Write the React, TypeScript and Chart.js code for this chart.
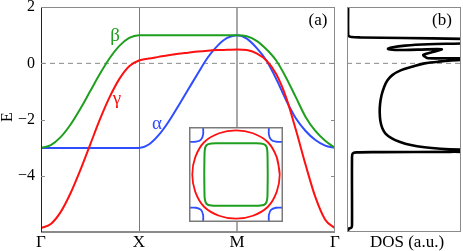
import React, { useEffect, useRef } from 'react';
import { Chart, registerables } from 'chart.js';

Chart.register(...registerables);

// ---------- data ----------
const kPath = [0, 0.1, 0.2, 0.3, 0.4, 0.5, 0.6, 0.7, 0.8, 0.9, 1.0, 1.1, 1.2, 1.3, 1.4, 1.5, 1.6, 1.7, 1.8, 1.9, 2.0, 2.1, 2.2, 2.3, 2.4, 2.5, 2.6, 2.7, 2.8, 2.9, 3.0];
const kTickValues = [0, 1, 2, 3];
const kTickLabels = ['Γ', 'X', 'M', 'Γ'];
const eTicks = [-4, -2, 0, 2];

const alphaBand = [-3, -3, -3, -3, -3, -3, -3, -3, -3, -3, -3, -2.88, -2.55, -2.08, -1.52, -0.94, -0.36, 0.2, 0.62, 0.9, 1.0, 0.88, 0.55, 0.1, -0.55, -1.3, -1.95, -2.4, -2.72, -2.92, -3.0];
const betaBand = [-3, -2.9, -2.62, -2.18, -1.62, -1.0, -0.38, 0.18, 0.62, 0.9, 1.0, 1.0, 1.0, 1.0, 1.0, 1.0, 1.0, 1.0, 1.0, 1.0, 1.0, 0.96, 0.8, 0.5, 0.1, -0.5, -1.2, -1.9, -2.4, -2.75, -3.0];
const gammaBand = [-5.85, -5.7, -5.28, -4.62, -3.8, -2.9, -2.0, -1.2, -0.55, -0.1, 0.1, 0.17, 0.23, 0.29, 0.34, 0.38, 0.42, 0.45, 0.47, 0.48, 0.49, 0.47, 0.35, 0.1, -0.38, -1.2, -2.35, -3.6, -4.75, -5.55, -5.85];

const dosEnergy = [2.0, 1.05, 0.97, 0.935, 0.92, 0.9, 0.87, 0.85,
  0.8, 0.75, 0.71, 0.68, 0.63, 0.56, 0.51,
  0.475, 0.486, 0.5,
  0.4, 0.3, 0.22, 0.18, 0.18, 0.18, 0.16,
  0.12, 0.12, 0.06, 0.0, -0.12, -0.25, -0.41,
  -0.6, -0.85, -1.15, -1.45, -1.75, -2.05, -2.3, -2.5, -2.65, -2.78, -2.9, -2.98, -3.03, -3.06, -3.08,
  -3.13, -3.14, -3.15, -3.16, -3.2, -3.35, -5.75, -5.82, -5.86, -5.87, -5.95];
const dosValue = [0.01, 0.01, 0.015, 0.04, 0.12, 0.5, 1.0, 1.3,
  1.3, 1.15, 1.02, 0.714, 0.51, 0.39, 0.36,
  0.42, 0.62, 0.83,
  0.75, 0.67, 0.69, 0.71, 0.86, 1.02, 1.3,
  1.3, 1.02, 0.8, 0.68, 0.57, 0.47, 0.4,
  0.355, 0.325, 0.302, 0.29, 0.287, 0.293, 0.31, 0.34, 0.39, 0.46, 0.56, 0.68, 0.82, 0.99, 1.3,
  1.3, 0.9, 0.3, 0.08, 0.05, 0.044, 0.044, 0.04, 0.02, 0.01, 0.01];

// Fermi surface inset (kx/π, ky/π)
const fsGammaX = [0.93, 0.868, 0.679, 0.36, 0, -0.36, -0.679, -0.868, -0.93, -0.868, -0.679, -0.36, 0, 0.36, 0.679, 0.868, 0.93, 0.868];
const fsGammaY = [0, 0.36, 0.679, 0.868, 0.93, 0.868, 0.679, 0.36, 0, -0.36, -0.679, -0.868, -0.93, -0.868, -0.679, -0.36, 0, 0.36];
const fsBetaX = [0.675, 0.672, 0.665, 0.63, 0.525, 0.3, 0, -0.3, -0.525, -0.63, -0.665, -0.672, -0.675, -0.672, -0.665, -0.63, -0.525, -0.3, 0, 0.3, 0.525, 0.63, 0.665, 0.672, 0.675, 0.672];
const fsBetaY = [0, 0.3, 0.51, 0.615, 0.655, 0.658, 0.66, 0.658, 0.655, 0.615, 0.51, 0.3, 0, -0.3, -0.51, -0.615, -0.655, -0.658, -0.66, -0.658, -0.655, -0.615, -0.51, -0.3, 0, 0.3];
const fsAlphaTLX = [-1, -0.85, -0.745, -0.7, -0.7];
const fsAlphaTLY = [0.69, 0.69, 0.735, 0.84, 1];
const fsAlphaTRX = [1, 0.85, 0.745, 0.7, 0.7];
const fsAlphaTRY = [0.69, 0.69, 0.735, 0.84, 1];
const fsAlphaBLX = [-1, -0.85, -0.745, -0.7, -0.7];
const fsAlphaBLY = [-0.7, -0.7, -0.745, -0.85, -1];
const fsAlphaBRX = [1, 0.85, 0.745, 0.7, 0.7];
const fsAlphaBRY = [-0.7, -0.7, -0.745, -0.85, -1];

// ---------- styles ----------
const SERIF = "'Liberation Serif', 'Times New Roman', serif";
const RED = '#ff1010';
const GREEN = '#1f9f1f';
const BLUE = '#2f4cff';
const FRAME = '#8a8a8a';

const pts = (xs: number[], ys: number[]) => xs.map((x, i) => ({ x, y: ys[i] }));

const curve = (label: string, xs: number[], ys: number[], color: string, extra: any = {}) => ({
  label,
  data: pts(xs, ys),
  borderColor: color,
  backgroundColor: color,
  borderWidth: 2,
  pointRadius: 0,
  fill: false,
  borderJoinStyle: 'round',
  borderCapStyle: 'round',
  ...extra,
});

const mainDecor = {
  id: 'mainDecor',
  afterDraw(chart: any) {
    const { ctx, chartArea: a, scales } = chart;
    ctx.save();
    ctx.strokeStyle = FRAME;
    ctx.lineWidth = 1;
    ctx.strokeRect(a.left + 0.5, a.top + 0.5, a.right - a.left - 1, a.bottom - a.top);
    ctx.lineWidth = 2;
    ctx.beginPath();
    ctx.moveTo(a.left, a.bottom + 1);
    ctx.lineTo(a.right, a.bottom + 1);
    ctx.stroke();
    ctx.strokeStyle = '#222';
    ctx.lineWidth = 1;
    ctx.beginPath();
    ctx.moveTo(a.left + 0.5, a.top);
    ctx.lineTo(a.left + 0.5, a.bottom + 1);
    ctx.stroke();
    ctx.strokeStyle = FRAME;
    eTicks.forEach((v) => {
      const y = Math.round(scales.y.getPixelForValue(v)) + 0.5;
      ctx.beginPath();
      ctx.moveTo(a.left, y);
      ctx.lineTo(a.left + 4, y);
      ctx.moveTo(a.right - 4, y);
      ctx.lineTo(a.right, y);
      ctx.stroke();
    });
    ctx.textAlign = 'center';
    ctx.textBaseline = 'alphabetic';
    ctx.font = `19px ${SERIF}`;
    ctx.fillStyle = GREEN;
    ctx.fillText('β', 115, 41);
    ctx.fillStyle = RED;
    ctx.fillText('γ', 117, 104);
    ctx.fillStyle = BLUE;
    ctx.fillText('α', 157, 128.5);
    ctx.fillStyle = '#000';
    ctx.font = `17px ${SERIF}`;
    ctx.fillText('(a)', 318, 25);
    ctx.save();
    ctx.translate(12, 117);
    ctx.rotate(-Math.PI / 2);
    ctx.font = `16px ${SERIF}`;
    ctx.fillText('E', 0, 0);
    ctx.restore();
    ctx.restore();
  },
};

const dosDecor = {
  id: 'dosDecor',
  afterDraw(chart: any) {
    const { ctx, chartArea: a } = chart;
    ctx.save();
    ctx.strokeStyle = FRAME;
    ctx.lineWidth = 1;
    ctx.strokeRect(a.left + 0.5, a.top + 0.5, a.right - a.left - 1, a.bottom - a.top);
    ctx.fillStyle = '#000';
    ctx.textAlign = 'center';
    ctx.textBaseline = 'alphabetic';
    ctx.font = `17px ${SERIF}`;
    ctx.fillText('(b)', 442, 25);
    ctx.fillText('DOS (a.u.)', 407, 247);
    ctx.restore();
  },
};

const insetDecor = {
  id: 'insetDecor',
  beforeDraw(chart: any) {
    const { ctx, width, height } = chart;
    ctx.save();
    ctx.fillStyle = '#fff';
    ctx.fillRect(0, 0, width, height);
    ctx.restore();
  },
  afterDraw(chart: any) {
    const { ctx, width, height } = chart;
    ctx.save();
    ctx.strokeStyle = '#7a7a7a';
    ctx.lineWidth = 1.5;
    ctx.strokeRect(0.75, 0.75, width - 1.5, height - 1.5);
    ctx.restore();
  },
};

const baseOptions = {
  responsive: false,
  animation: false,
  devicePixelRatio: 1,
  events: [],
  plugins: { legend: { display: false }, tooltip: { enabled: false } },
};

function mainConfig(): any {
  return {
    type: 'line',
    data: {
      datasets: [
        curve('γ', kPath, gammaBand, RED, { cubicInterpolationMode: 'monotone' }),
        curve('β', kPath, betaBand, GREEN, { cubicInterpolationMode: 'monotone' }),
        curve('α', kPath, alphaBand, BLUE, { cubicInterpolationMode: 'monotone' }),
        curve('E_F', [0, 3], [0, 0], '#8a8a8a', { borderWidth: 1, borderDash: [5, 4], borderCapStyle: 'butt' }),
      ],
    },
    options: {
      ...baseOptions,
      layout: { padding: { left: 0, right: 128, top: 7, bottom: 0 } },
      scales: {
        x: {
          type: 'linear',
          min: 0,
          max: 3,
          afterBuildTicks: (s: any) => {
            s.ticks = kTickValues.map((v) => ({ value: v }));
          },
          afterFit: (s: any) => {
            s.height = 20;
            s.paddingLeft = 0;
            s.paddingRight = 0;
          },
          ticks: {
            autoSkip: false,
            maxRotation: 0,
            padding: 1,
            color: '#000',
            font: { family: SERIF, size: 17 },
            callback: (v: any) => kTickLabels[kTickValues.indexOf(Number(v))] ?? '',
          },
          grid: {
            drawTicks: false,
            color: (c: any) => (c.tick && c.tick.value === 1 ? '#7a7a7a' : c.tick && c.tick.value === 2 ? '#a8a8a8' : 'rgba(0,0,0,0)'),
            lineWidth: (c: any) => (c.tick && c.tick.value === 2 ? 2 : 1),
          },
          border: { display: false },
        },
        y: {
          type: 'linear',
          min: -5.95,
          max: 2,
          afterBuildTicks: (s: any) => {
            s.ticks = eTicks.map((v) => ({ value: v }));
          },
          afterFit: (s: any) => {
            s.width = 41;
            s.paddingTop = 0;
            s.paddingBottom = 0;
          },
          ticks: {
            padding: 6,
            color: '#000',
            font: { family: SERIF, size: 16 },
            callback: (v: any) => {
              const n = Number(v);
              return n < 0 ? '\u2212' + Math.abs(n) : String(n);
            },
          },
          grid: { display: false, drawTicks: false },
          border: { display: false },
        },
      },
    },
    plugins: [mainDecor],
  };
}

function dosConfig(): any {
  return {
    type: 'line',
    data: {
      datasets: [
        curve('DOS', dosValue, dosEnergy, '#000', { borderWidth: 2.6, tension: 0.35 }),
        curve('E_F', [0, 1], [0, 0], '#8a8a8a', { borderWidth: 1, borderDash: [5, 4], borderCapStyle: 'butt' }),
      ],
    },
    options: {
      ...baseOptions,
      layout: { padding: { left: 347, right: 2, top: 7, bottom: 20 } },
      scales: {
        x: { type: 'linear', display: false, min: 0, max: 1 },
        y: { type: 'linear', display: false, min: -5.95, max: 2 },
      },
    },
    plugins: [dosDecor],
  };
}

function insetConfig(): any {
  const fs = { borderWidth: 1.8, tension: 0.34 };
  return {
    type: 'line',
    data: {
      datasets: [
        curve('γ FS', fsGammaX, fsGammaY, RED, fs),
        curve('β FS', fsBetaX, fsBetaY, GREEN, { borderWidth: 2, tension: 0.3 }),
        curve('α FS 1', fsAlphaTLX, fsAlphaTLY, BLUE, fs),
        curve('α FS 2', fsAlphaTRX, fsAlphaTRY, BLUE, fs),
        curve('α FS 3', fsAlphaBLX, fsAlphaBLY, BLUE, fs),
        curve('α FS 4', fsAlphaBRX, fsAlphaBRY, BLUE, fs),
      ],
    },
    options: {
      ...baseOptions,
      layout: { padding: 0 },
      scales: {
        x: { type: 'linear', display: false, min: -1, max: 1 },
        y: { type: 'linear', display: false, min: -1, max: 1 },
      },
    },
    plugins: [insetDecor],
  };
}

export default function App() {
  const mainRef = useRef<HTMLCanvasElement>(null);
  const dosRef = useRef<HTMLCanvasElement>(null);
  const insetRef = useRef<HTMLCanvasElement>(null);

  useEffect(() => {
    const charts: Chart[] = [];
    if (mainRef.current) charts.push(new Chart(mainRef.current, mainConfig()));
    if (dosRef.current) charts.push(new Chart(dosRef.current, dosConfig()));
    if (insetRef.current) charts.push(new Chart(insetRef.current, insetConfig()));
    return () => charts.forEach((c) => c.destroy());
  }, []);

  return (
    <div style={{ position: 'fixed', left: 0, top: 0, width: 463, height: 251, background: '#fff', overflow: 'hidden' }}>
      <canvas ref={mainRef} width={463} height={251} style={{ position: 'absolute', left: 0, top: 0 }} />
      <canvas ref={dosRef} width={463} height={251} style={{ position: 'absolute', left: 0, top: 0 }} />
      <canvas ref={insetRef} width={94} height={95} style={{ position: 'absolute', left: 189, top: 127 }} />
    </div>
  );
}
